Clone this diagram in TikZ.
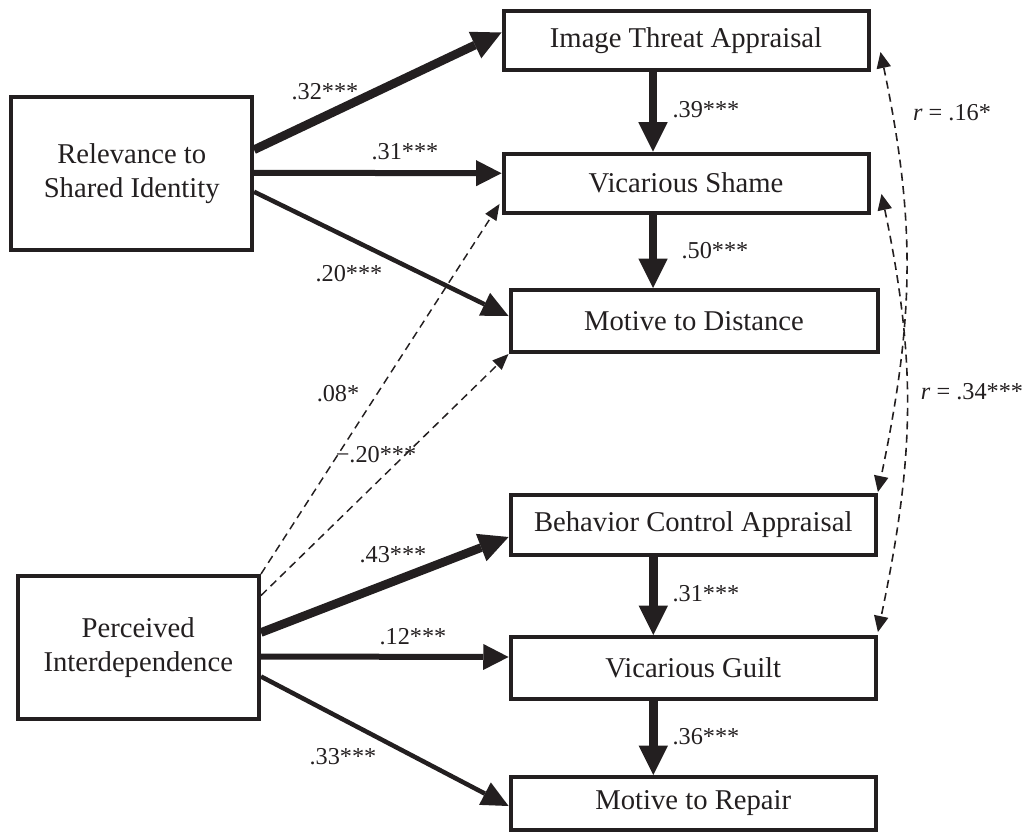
\documentclass[tikz,border=0pt]{standalone}
\usepackage{fontspec}
\setmainfont{Liberation Serif}
\usetikzlibrary{arrows.meta,calc}
\definecolor{ink}{RGB}{35,31,32}
\begin{document}
\begin{tikzpicture}[x=0.75pt,y=-0.75pt,
  box/.style={draw=ink, line width=3pt, inner sep=0pt, align=center, text=ink,
    font=\fontsize{21.5}{25}\selectfont},
  lab/.style={font=\fontsize{18.2}{21}\selectfont, inner sep=0pt, text=ink},
  heavy/.style={draw=ink, line width=6.5pt, -{Triangle[length=22pt,width=22pt,line width=0pt]}},
  medium/.style={draw=ink, line width=4.5pt, -{Triangle[length=19pt,width=19.5pt,line width=0pt]}},
  light/.style={draw=ink, line width=3.4pt, -{Triangle[length=20pt,width=19pt,line width=0pt]}},
  dashline/.style={draw=ink, line width=1.1pt, dash pattern=on 6pt off 4pt, -{Triangle[length=12pt,width=10pt,line width=0pt]}},
  corr/.style={draw=ink, line width=1.2pt, dash pattern=on 6pt off 4pt, {Triangle[length=12pt,width=11pt,line width=0pt]}-{Triangle[length=12pt,width=11pt,line width=0pt]}}
]
\useasboundingbox (0,0) rectangle (1035,836);

% boxes
\node[box, minimum width=273.75pt, minimum height=44.25pt] (its) at (686,40.5) {Image Threat Appraisal};
\node[box, minimum width=273.75pt, minimum height=44.6pt] (vs) at (686,183.25) {Vicarious Shame};
\node[box, minimum width=275.25pt, minimum height=46.5pt] (mtd) at (694,321) {Motive to Distance};
\node[box, minimum width=274pt, minimum height=45pt] (bca) at (693.25,525) {Behavior Control Appraisal};
\node[box, minimum width=274pt, minimum height=46.5pt] (vg) at (693.25,668) {Vicarious Guilt};
\node[box, minimum width=274pt, minimum height=39.75pt] (mtr) at (693.25,803.5) {Motive to Repair};
\node[box, minimum width=180.4pt, minimum height=115pt] (rsi) at (131.75,173.75) {Relevance to\\Shared Identity};
\node[box, minimum width=181.1pt, minimum height=107.25pt] (pi) at (138.25,647.5) {Perceived\\Interdependence};

% paths from Relevance
\draw[heavy] ($(rsi.east)+(0,-24)$) -- ($(its.west)+(0,-8)$);
\draw[medium] ($(rsi.east)+(0,-1)$) -- ($(vs.west)+(0,-10)$);
\draw[light] ($(rsi.east)+(0,18)$) -- ($(mtd.west)+(0,-5)$);

% dashed paths from Perceived
\draw[dashline] (pi.north east) -- ($(vs.south west)+(-2,-11)$);
\draw[dashline] ($(pi.east)+(0,-52)$) -- (mtd.south west);

% paths from Perceived
\draw[heavy] ($(pi.east)+(0,-15)$) -- ($(bca.west)+(0,12)$);
\draw[medium] ($(pi.east)+(0,9)$) -- ($(vg.west)+(0,-11)$);
\draw[light] ($(pi.east)+(0,29)$) -- ($(mtr.west)+(0,2.5)$);

% vertical paths
\draw[heavy] ($(its.south)+(-33,0)$) -- ($(vs.north)+(-33,0)$);
\draw[heavy] ($(vs.south)+(-33,0)$) -- ($(mtd.north)+(-41,0)$);
\draw[heavy] ($(bca.south)+(-40,0)$) -- ($(vg.north)+(-40,0)$);
\draw[heavy] ($(vg.south)+(-40,0)$) -- ($(mtr.north)+(-40,0)$);

% correlations
\draw[corr] ($(its.south east)+(10,-20)$) .. controls +(36,172) and +(36,-172) .. ($(bca.north east)+(0,-1)$);
\draw[corr] ($(vs.south east)+(11,-21)$) .. controls +(36,172) and +(36,-172) .. ($(vg.north east)+(0,-3)$);

% labels
\node[lab] (l32) at (325,92) {.32***};
\node[lab] (l31) at (405,152) {.31***};
\node[lab] (l20) at (349,274) {.20***};
\node[lab] (l08) at (338,394) {.08*};
\node[lab] (lm20) at (376,455) {−.20***};
\node[lab] (l43) at (393,555) {.43***};
\node[lab] (l12) at (413,637) {.12***};
\node[lab] (l33) at (343,757) {.33***};
\node[lab] (l39) at (706,110) {.39***};
\node[lab] (l50) at (715,251) {.50***};
\node[lab] (l31b) at (706,594) {.31***};
\node[lab] (l36) at (706,737) {.36***};
\node[lab] (r16) at (952,113) {\textit{r} = .16*};
\node[lab] (r34) at (972,392) {\textit{r} = .34***};
\end{tikzpicture}
\end{document}
